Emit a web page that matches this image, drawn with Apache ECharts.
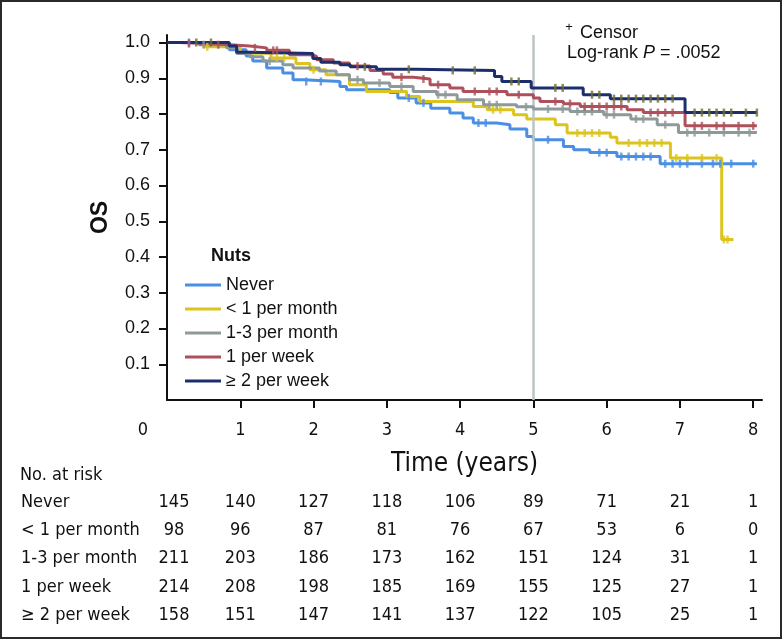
<!DOCTYPE html>
<html><head><meta charset="utf-8">
<script src="https://cdn.jsdelivr.net/npm/echarts@6/dist/echarts.min.js"></script>
<style>html,body{margin:0;padding:0;background:#fff}#c{width:783px;height:639px}</style>
</head><body><div id="c"></div>
<script>
// ---------- data ----------
const groups = ['Never', '< 1 per month', '1-3 per month', '1 per week', '≥ 2 per week'];
const colors = ['#4a8fe3', '#dcc41e', '#8e9999', '#ad505b', '#1c2f6c'];
const censorColors = ['#4a8fe3', '#dcc41e', '#8e9999', '#ad505b', '#6f6c2f'];

// KM steps: [time (years), survival after the drop]
const kmNever = [[0,1],[0.44,0.994],[0.85,0.98],[1.08,0.962],[1.17,0.948],[1.36,0.929],[1.58,0.915],[1.72,0.896],[1.86,0.891],[2.36,0.877],[2.45,0.868],[3.04,0.86],[3.15,0.845],[3.4,0.831],[3.6,0.816],[3.86,0.803],[4.04,0.789],[4.18,0.775],[4.5,0.77],[4.68,0.758],[4.91,0.737],[5.0,0.728],[5.41,0.709],[5.55,0.70],[5.77,0.692],[6.14,0.681],[6.73,0.661],[8.05,0.661]];
const kmLess1 = [[0,1],[0.5,0.988],[1.0,0.97],[1.42,0.957],[1.76,0.941],[1.95,0.924],[2.17,0.91],[2.49,0.882],[2.72,0.863],[3.27,0.849],[3.45,0.835],[4.18,0.821],[4.37,0.812],[4.73,0.798],[4.91,0.786],[5.3,0.77],[5.46,0.747],[6.05,0.735],[6.14,0.719],[6.87,0.677],[7.57,0.449],[7.73,0.449]];
const km13 = [[0,1],[0.5,0.994],[0.81,0.985],[0.95,0.969],[1.13,0.96],[1.31,0.948],[1.58,0.938],[1.72,0.929],[2.08,0.92],[2.31,0.91],[2.49,0.896],[2.68,0.887],[3.04,0.877],[3.36,0.863],[3.68,0.854],[3.96,0.84],[4.32,0.826],[4.77,0.82],[5.0,0.814],[5.5,0.807],[5.96,0.798],[6.33,0.786],[6.69,0.77],[6.98,0.748],[8.05,0.748]];
const kmWeek1 = [[0,1],[0.17,0.997],[0.54,0.994],[0.85,0.99],[1.13,0.985],[1.36,0.978],[1.67,0.966],[1.95,0.962],[2.04,0.952],[2.27,0.943],[2.49,0.934],[2.77,0.922],[2.95,0.912],[3.08,0.903],[3.36,0.898],[3.59,0.882],[3.86,0.873],[4.04,0.863],[4.64,0.854],[5.0,0.845],[5.09,0.835],[5.41,0.829],[5.64,0.821],[6.28,0.812],[6.5,0.804],[7.07,0.767],[8.05,0.767]];
const kmWeek2 = [[0,1],[0.85,0.99],[0.95,0.973],[1.13,0.969],[1.99,0.955],[2.1,0.945],[2.36,0.938],[2.5,0.932],[2.86,0.925],[3.4,0.922],[4.47,0.905],[4.57,0.891],[4.97,0.873],[5.68,0.854],[6.05,0.843],[7.07,0.804],[8.05,0.804]];

// censoring times (years)
const cenNever = [0.3,1.9,2.1,3.3,3.5,4.25,4.35,5.2,5.9,6.0,6.2,6.3,6.4,6.5,6.6,6.8,6.9,7.0,7.1,7.3,7.45,7.55,7.7,8.0];
const cenLess1 = [0.55,1.5,1.6,2.0,4.45,4.55,5.6,5.7,5.8,5.9,6.3,6.45,6.55,6.65,6.75,6.95,7.1,7.3,7.5,7.6,7.65];
const cen13 = [0.5,1.4,2.6,2.9,3.2,3.7,3.8,4.4,4.5,4.9,5.2,5.4,5.6,5.7,5.8,6.0,6.1,6.4,6.5,6.8,7.1,7.2,7.4,7.6,7.8,7.95];
const cenWeek1 = [0.3,0.7,1.2,1.45,1.5,2.6,3.2,3.5,3.7,4.2,4.4,4.5,4.8,5.3,5.5,5.7,5.8,5.9,6.0,6.1,6.2,6.6,6.7,6.8,6.9,7.2,7.3,7.5,7.6,7.8,8.0];
const cenWeek2 = [0.4,0.6,2.7,3.3,3.9,4.2,4.7,4.8,5.3,5.4,5.8,5.9,6.1,6.2,6.3,6.4,6.5,6.6,6.7,6.8,6.9,7.2,7.3,7.4,7.5,7.6,7.7,7.9,8.05];

// number at risk
const riskTimes = [0,1,2,3,4,5,6,7,8];
const riskNever = [145,140,127,118,106,89,71,21,1];
const riskLess1 = [98,96,87,81,76,67,53,6,0];
const risk13 = [211,203,186,173,162,151,124,31,1];
const riskWeek1 = [214,208,198,185,169,155,125,27,1];
const riskWeek2 = [158,151,147,141,137,122,105,25,1];

const xTicks = [1,2,3,4,5,6,7,8];
const xLabels = [0,1,2,3,4,5,6,7,8];
const yTicks = [0.1,0.2,0.3,0.4,0.5,0.6,0.7,0.8,0.9,1.0];
const landmarkTime = 5;

// ---------- build ----------
const kms = [kmNever, kmLess1, km13, kmWeek1, kmWeek2];
const cens = [cenNever, cenLess1, cen13, cenWeek1, cenWeek2];
const risks = [riskNever, riskLess1, risk13, riskWeek1, riskWeek2];

function stepValue(km, t) {
  let v = km[0][1];
  for (const p of km) { if (p[0] <= t) v = p[1]; }
  return v;
}

const SANS = "'Liberation Sans', Arial, Helvetica, sans-serif";
const NARROW = "'Liberation Sans Narrow', 'Arial Narrow', 'DejaVu Sans Condensed', sans-serif";

const series = [];
series.push({
  type: 'line', name: 'ref', data: [], z: 1, silent: true,
  markLine: { symbol: 'none', silent: true, label: { show: false },
    lineStyle: { color: '#bcc4c4', width: 2.5, type: 'solid' },
    data: [{ xAxis: landmarkTime }] }
});
kms.forEach((km, i) => {
  series.push({
    type: 'line', name: groups[i], step: 'end', data: km, showSymbol: false,
    lineStyle: { color: colors[i], width: 3 }, itemStyle: { color: colors[i] },
    z: 3 + i, animation: false
  });
});
cens.forEach((c, i) => {
  series.push({
    type: 'scatter', name: 'cen' + i, symbol: 'rect', symbolSize: [2.5, 8],
    data: c.map(t => [t, stepValue(kms[i], t)]),
    itemStyle: { color: censorColors[i] }, z: 10 + i, animation: false, silent: true
  });
});

const chart = echarts.init(document.getElementById('c'));
const option = {
  backgroundColor: '#fff',
  animation: false,
  grid: { left: 167, right: 21, top: 35, bottom: 239, containLabel: false },
  xAxis: {
    type: 'value', min: 0, max: 8.12,
    axisLine: { show: true, onZero: false, lineStyle: { color: '#111', width: 2 } },
    axisTick: { show: true, length: 8, lineStyle: { color: '#111', width: 2 }, customValues: xTicks },
    axisLabel: { customValues: xLabels, margin: 21, fontSize: 18, fontFamily: NARROW, color: '#111',
      formatter: v => v === 0 ? '{z|0}' : String(v),
      rich: { z: { fontSize: 18, fontFamily: NARROW, color: '#111', padding: [0, 48, 0, 0] } } },
    splitLine: { show: false },
    name: 'Time (years)', nameLocation: 'middle', nameGap: 51,
    nameTextStyle: { fontSize: 26, fontFamily: NARROW, color: '#111' }
  },
  yAxis: {
    type: 'value', min: 0, max: 1.021,
    axisLine: { show: true, lineStyle: { color: '#111', width: 2 } },
    axisTick: { show: true, length: 8, lineStyle: { color: '#111', width: 2 }, customValues: yTicks },
    axisLabel: { customValues: yTicks, margin: 17, fontSize: 18, fontFamily: SANS, color: '#111',
      formatter: v => v.toFixed(1) },
    splitLine: { show: false },
    name: 'OS', nameLocation: 'middle', nameGap: 55, nameRotate: 90,
    nameTextStyle: { fontSize: 23, fontWeight: 'bold', fontFamily: SANS, color: '#111' }
  },
  legend: {
    data: groups, orient: 'vertical', left: 180, top: 271,
    icon: 'rect', itemWidth: 36, itemHeight: 3, itemGap: 6,
    textStyle: { fontSize: 18, fontFamily: SANS, color: '#111' },
    selectedMode: false
  },
  series: series
};
chart.setOption(option);

// texts: annotation, legend title, risk table, frame
const g = [];
g.push({ type: 'rect', shape: { x: 1, y: 1, width: 780, height: 637 },
  style: { fill: 'none', stroke: '#2a2a2a', lineWidth: 2 }, z: 100 });
g.push({ type: 'text', x: 211, y: 256, style: { text: 'Nuts', fontSize: 18, fontWeight: 'bold', fontFamily: SANS, fill: '#111', align: 'left', verticalAlign: 'middle' } });
g.push({ type: 'text', x: 569, y: 27, style: { text: '+', fontSize: 13, fontFamily: SANS, fill: '#111', align: 'center', verticalAlign: 'middle' } });
g.push({ type: 'text', x: 580, y: 33, style: { text: 'Censor', fontSize: 18, fontFamily: SANS, fill: '#111', align: 'left', verticalAlign: 'middle' } });
g.push({ type: 'text', x: 567, y: 53, style: { text: '{n|Log-rank }{i|P}{n| = .0052}', align: 'left', verticalAlign: 'middle',
  rich: { n: { fontSize: 18, fontFamily: SANS, fill: '#111', color: '#111' }, i: { fontSize: 18, fontFamily: SANS, fontStyle: 'italic', color: '#111', fill: '#111' } } } });
g.push({ type: 'text', x: 20, y: 475, style: { text: 'No. at risk', fontSize: 18, fontFamily: NARROW, fill: '#111', align: 'left', verticalAlign: 'middle' } });
const rowY = [502, 530, 558, 587, 615];
groups.forEach((name, r) => {
  g.push({ type: 'text', x: 21, y: rowY[r], style: { text: name, fontSize: 18, fontFamily: NARROW, fill: '#111', align: 'left', verticalAlign: 'middle' } });
  risks[r].forEach((n, c) => {
    const px = chart.convertToPixel({ xAxisIndex: 0 }, riskTimes[c]) + (riskTimes[c] === 0 ? 7 : 0);
    g.push({ type: 'text', x: px, y: rowY[r], style: { text: String(n), fontSize: 18, fontFamily: NARROW, fill: '#111', align: 'center', verticalAlign: 'middle' } });
  });
});
chart.setOption({ graphic: g });
</script>
</body></html>
